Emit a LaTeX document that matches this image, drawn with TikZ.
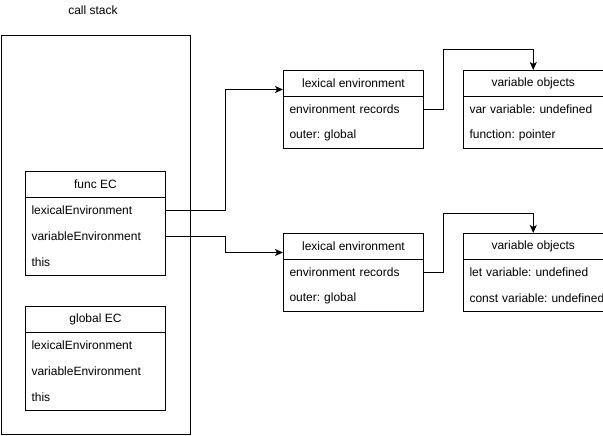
\documentclass[tikz,border=0pt]{standalone}
\usepackage{fontspec}
\setmainfont{Liberation Sans}
\usetikzlibrary{arrows.meta}
\frenchspacing

\begin{document}
\begin{tikzpicture}[x=1pt,y=-1pt,line width=1pt,
  every node/.style={font=\fontsize{12}{14}\selectfont}]

  \tikzstyle{head}=[draw,minimum width=140pt,minimum height=26pt,inner sep=0pt,anchor=north west]
  \tikzstyle{body}=[draw,minimum width=140pt,inner sep=0pt,anchor=north west]
  \tikzstyle{row}=[text width=128pt,inner xsep=6pt,inner ysep=0pt,minimum height=26pt,align=left,anchor=north west]
  \tikzstyle{link}=[-{Stealth[length=8pt,width=7pt,inset=2pt]}]

  \useasboundingbox (0,0) rectangle (603,436);

  \node (stackLabel) at (93,10) {call stack};
  \node[draw,minimum width=189.8pt,minimum height=399pt,inner sep=0pt,anchor=north west] (stack) at (0.5,35) {};

  % func EC
  \node[head] (funcHead) at (25,171) {func EC};
  \node[body,minimum height=78pt] (funcBody) at (25,197) {};
  \node[row] (funcLex) at (25,197) {lexicalEnvironment};
  \node[row] (funcVar) at (25,223) {variableEnvironment};
  \node[row] (funcThis) at (25,249) {this};

  % global EC
  \node[head] (globalHead) at (25,306) {global EC};
  \node[body,minimum height=78pt] (globalBody) at (25,332) {};
  \node[row] (globalLex) at (25,332) {lexicalEnvironment};
  \node[row] (globalVar) at (25,358) {variableEnvironment};
  \node[row] (globalThis) at (25,384) {this};

  % lexical environments
  \node[head] (lexTopHead) at (283,70) {lexical environment};
  \node[body,minimum height=52pt] (lexTopBody) at (283,96) {};
  \node[row] (lexTopRec) at (283,96) {environment records};
  \node[row] (lexTopOuter) at (283,122) {outer: global};

  \node[head] (lexBotHead) at (283,233) {lexical environment};
  \node[body,minimum height=52pt] (lexBotBody) at (283,259) {};
  \node[row] (lexBotRec) at (283,259) {environment records};
  \node[row] (lexBotOuter) at (283,285) {outer: global};

  % variable objects
  \node[head,minimum width=139.5pt] (varTopHead) at (463,70) {variable objects};
  \node[body,minimum width=139.5pt,minimum height=52pt] (varTopBody) at (463,96) {};
  \node[row] (varTopVar) at (463,96) {var variable: undefined};
  \node[row] (varTopFunc) at (463,122) {function: pointer};

  \node[head,minimum width=139.5pt] (varBotHead) at (463,233) {variable objects};
  \node[body,minimum width=139.5pt,minimum height=52pt] (varBotBody) at (463,259) {};
  \node[row] (varBotLet) at (463,259) {let variable: undefined};
  \node[row] (varBotConst) at (463,285) {\mbox{const variable: undefined}};

  \draw[link] (funcLex.east) -- ++(59,0) |- ([yshift=-6pt]lexTopHead.west);
  \draw[link] (funcVar.east) -- ++(59,0) |- ([yshift=-6pt]lexBotHead.west);

  \draw[link] (lexTopRec.east) -- ++(19,0) |- ([yshift=20pt]varTopHead.north) -- (varTopHead.north);
  \draw[link] (lexBotRec.east) -- ++(19,0) |- ([yshift=20pt]varBotHead.north) -- (varBotHead.north);

  %\draw[step=10pt,gray,very thin] (0,0) grid (603,436);

\end{tikzpicture}
\end{document}
